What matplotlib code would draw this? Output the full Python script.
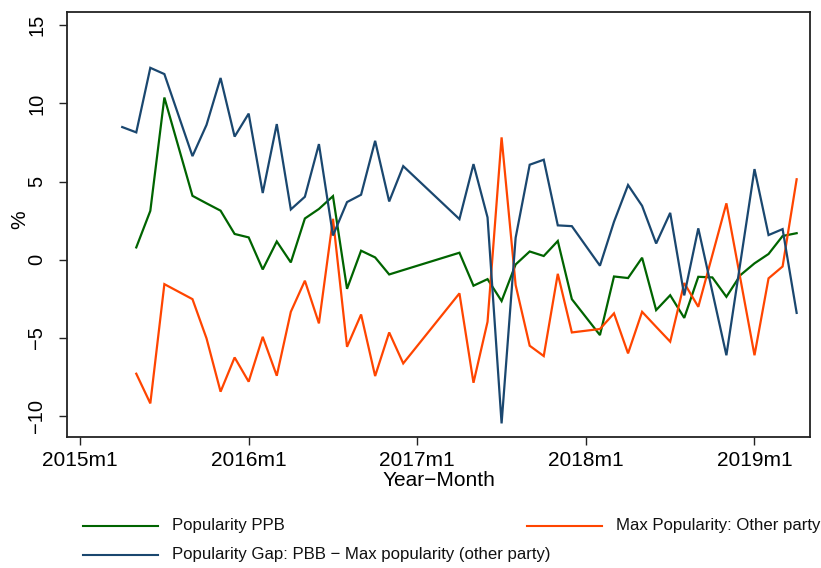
import numpy as np
import pandas as pd
import matplotlib
matplotlib.use("Agg")
import matplotlib.pyplot as plt
from matplotlib.lines import Line2D

plt.rcParams['font.family'] = ['Liberation Sans', 'DejaVu Sans']

# Survey months (some months have no poll)
dates = ["2015-04", "2015-05", "2015-06", "2015-07", "2015-09", "2015-10", "2015-11",
         "2015-12", "2016-01", "2016-02", "2016-03", "2016-04", "2016-05", "2016-06",
         "2016-07", "2016-08", "2016-09", "2016-10", "2016-11", "2016-12", "2017-04",
         "2017-05", "2017-06", "2017-07", "2017-08", "2017-09", "2017-10", "2017-11",
         "2017-12", "2018-02", "2018-03", "2018-04", "2018-05", "2018-06", "2018-07",
         "2018-08", "2018-09", "2018-10", "2018-11", "2018-12", "2019-01", "2019-02",
         "2019-03", "2019-04"]

# Popularity of PPB (%)
ppb = [np.nan, 0.79, 3.13, 10.38, 4.09, 3.61, 3.14,
       1.65, 1.43, -0.62, 1.17, -0.17, 2.64, 3.25,
       4.07, -1.86, 0.58, 0.15, -0.94, -0.66, 0.45,
       -1.66, -1.24, -2.64, -0.30, 0.53, 0.24, 1.20,
       -2.52, -4.82, -1.07, -1.17, 0.13, -3.22, -2.27,
       -3.72, -1.09, -1.13, -2.37, -0.98, -0.23, 0.37,
       1.52, 1.70]

# Max popularity of the other parties (%)
other = [np.nan, -7.29, -9.19, -1.56, -2.52, -5.03, -8.44,
         -6.25, -7.80, -4.93, -7.42, -3.33, -1.34, -4.07,
         2.62, -5.57, -3.50, -7.44, -4.65, -6.63, -2.15,
         -7.87, -3.97, 7.83, -1.62, -5.50, -6.16, -0.90,
         -4.65, -4.43, -3.43, -5.99, -3.33, -4.29, -5.24,
         -1.49, -3.01, np.nan, 3.61, -1.24, -6.11, -1.19,
         -0.43, 5.15]

# Gap: PPB - max popularity (other party)
gap = [8.49, 8.15, 12.28, 11.88, 6.63, 8.63, 11.63,
       7.88, 9.35, 4.27, 8.68, 3.22, 4.03, 7.40,
       1.55, 3.69, 4.16, 7.61, 3.73, 5.99, 2.60,
       6.12, 2.71, -10.47, 1.41, 6.08, 6.40, 2.20,
       2.15, -0.38, 2.43, 4.78, 3.45, 1.04, 3.00,
       -2.28, 2.01, np.nan, -6.11, -0.15, 5.80, 1.58,
       1.96, -3.40]

tick_labels = ["2015m1", "2016m1", "2017m1", "2018m1", "2019m1"]
labels = ["Popularity PPB", "Max Popularity: Other party",
          "Popularity Gap: PBB \u2212 Max popularity (other party)"]
colors = ["#006400", "#ff4500", "#1a476f"]

# month index relative to 2015m1
base = pd.Period("2015-01", freq="M")
t = np.array([(pd.Period(d, freq="M") - base).n for d in dates])
tick_pos = [(pd.Period(s.replace("m", "-"), freq="M") - base).n for s in tick_labels]

W, H = 821, 568
fig = plt.figure(figsize=(W / 100, H / 100), dpi=100)
ax = fig.add_axes([67 / W, 1 - 436.7 / H, (810 - 67) / W, (436.7 - 11.7) / H])

# draw the three series, connecting across missing months
for series, c in zip([ppb, other, gap], colors):
    y = np.array(series, dtype=float)
    ok = ~np.isnan(y)
    ax.plot(t[ok], y[ok], color=c, lw=1.6, solid_joinstyle='miter')

ax.set_xlim(-0.93, 51.95)
ax.set_ylim(-11.32, 15.87)
ax.set_xticks(tick_pos)
ax.set_xticklabels(tick_labels)
ax.set_yticks([-10, -5, 0, 5, 10, 15])
for lab in ax.get_yticklabels():
    lab.set_rotation(90)
    lab.set_va('center')

ax.tick_params(axis='x', length=6, width=1, pad=4, labelsize=15, color='#222222')
ax.tick_params(axis='y', length=6, width=1, pad=9, labelsize=14.5, color='#222222')
for sp in ax.spines.values():
    sp.set_linewidth(1.3)
    sp.set_color('#222222')

ax.set_xlabel("Year\u2212Month", fontsize=15)
ax.xaxis.label.set_va('center')
ax.xaxis.set_label_coords(0.5, (436.7 - 481) / 425)
ax.set_ylabel("%", fontsize=15)
ax.yaxis.label.set_va('center')
ax.yaxis.set_label_coords((20 - 67) / 743, (436.7 - 220) / 425)

# legend (Stata style: two columns, long label spills over)
entries = [(0, 83, 525.5), (1, 527, 525.5), (2, 83, 555)]
for i, x0, y0 in entries:
    fig.add_artist(Line2D([x0 / W, (x0 + 75) / W], [1 - y0 / H, 1 - y0 / H],
                          transform=fig.transFigure, color=colors[i], lw=1.5))
    fig.text((x0 + 89) / W, 1 - y0 / H, labels[i], fontsize=12.1,
             va='center', ha='left', color='#111111')

fig.savefig("out.png", dpi=100)
